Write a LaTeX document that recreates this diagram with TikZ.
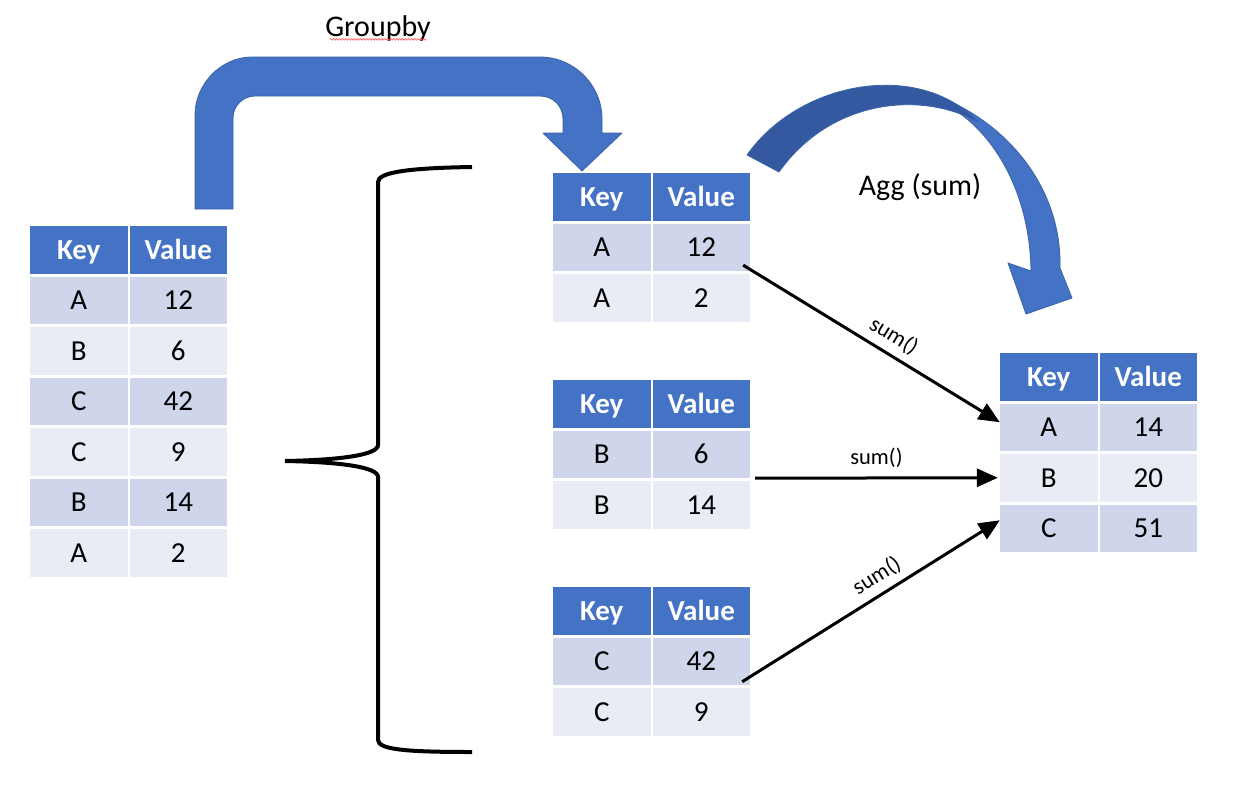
\documentclass[tikz,border=0pt]{standalone}
\usepackage{fontspec}
\setmainfont{Carlito}
\usetikzlibrary{arrows.meta,calc,decorations.pathmorphing}
\definecolor{hdrblue}{HTML}{4472C4}
\definecolor{rowdk}{HTML}{CFD5EA}
\definecolor{rowlt}{HTML}{E9EBF5}
\definecolor{arrowdark}{HTML}{3459A0}
\definecolor{arrowline}{HTML}{3A62A8}
\tikzset{
  cellbox/.style={rectangle, inner sep=0pt, minimum width=97.5pt, minimum height=47.5pt,
    text height=22pt, text depth=3.3pt, font=\fontsize{29}{30}\selectfont},
  hdr/.style={cellbox, fill=hdrblue, text=white, font=\fontsize{29}{30}\selectfont\bfseries},
  rowdark/.style={fill=rowdk},
  rowlight/.style={fill=rowlt},
  sumarrow/.style={line width=3pt, -{Triangle[length=21pt,width=18pt]}},
  sumlabel/.style={font=\fontsize{22.5}{24}\selectfont, sloped, inner sep=2pt},
  blockarrow/.style={fill=hdrblue, draw=arrowline, line width=0.8pt, line join=round},
  bracestyle/.style={line width=4pt, line cap=butt},
  bigtext/.style={font=\fontsize{30}{32}\selectfont}
}
\newcommand\datatable[4]{%
  \node[hdr] (#1-hk) at (#2+48.75,#3+23.75) {Key};
  \node[hdr] (#1-hv) at (#2+148.25,#3+23.75) {Value};
  \foreach \kk/\vv [count=\ii] in {#4} {
    \pgfmathsetmacro\yy{#3+23.75+50.5*\ii}
    \ifodd\ii \def\rowsty{rowdark}\else\def\rowsty{rowlight}\fi
    \node[cellbox,\rowsty] (#1-\ii k) at (#2+48.75,\yy) {\kk};
    \node[cellbox,\rowsty] (#1-\ii v) at (#2+148.25,\yy) {\vv};
  }%
}
\begin{document}
\begin{tikzpicture}[x=1pt,y=-1pt]
\useasboundingbox (0,0) rectangle (1242,795);
\fill[white] (0,0) rectangle (1242,795);

% Tables
\datatable{L}{30}{226}{A/12,B/6,C/42,C/9,B/14,A/2}
\datatable{ga}{553}{173}{A/12,A/2}
\datatable{gb}{553}{380}{B/6,B/14}
\datatable{gc}{553}{587}{C/42,C/9}
\datatable{R}{1000}{353}{A/14,B/20,C/51}

% Groupby block arrow
\path[blockarrow] (195,209) -- (195,115) .. controls (195,84) and (221,57) .. (252,57)
  -- (540,57) .. controls (574,57) and (602,85) .. (602,119) -- (602,133) -- (622,133)
  -- (582,171) -- (543,133) -- (563,133) -- (563,119)
  .. controls (563,106) and (553,96) .. (540,96) -- (255,96)
  .. controls (243,96) and (233,106) .. (233,118) -- (233,209) -- cycle;
\node[bigtext] (groupby) at (378,29) {Groupby};
\draw[red!70, line width=0.6pt, decorate, decoration={snake, amplitude=0.8pt, segment length=3pt}]
  ($(groupby.south west)+(8,-6)$) -- ($(groupby.south east)+(-8,-6)$);

% Brace
\draw[bracestyle] (472,167) .. controls (410,168) and (378,172) .. (378,182) -- (378,445)
  .. controls (378,455) and (340,460) .. (285,461)
  .. controls (340,462) and (378,467) .. (378,477) -- (378,740)
  .. controls (378,750) and (410,752) .. (472,752);

% Agg curved arrow
\path[blockarrow] (940,97) .. controls (1010,125) and (1062,190) .. (1060,268) -- (1072,298)
  -- (1026,314) -- (1008,263) -- (1031,271) .. controls (1030,200) and (1000,140) .. (955,110) -- cycle;
\path[blockarrow, fill=arrowdark] (747,155) .. controls (800,80) and (920,60) .. (978,122)
  .. controls (920,90) and (830,100) .. (779,172) -- cycle;
\node[bigtext] (agg) at (920,187) {Agg (sum)};

% sum arrows
\coordinate (s1) at ($(ga-1v.south east)+(-7,-6)$);
\coordinate (e1) at ($(R-1k.west)+(0,-5)$);
\coordinate (s2) at ($(gb-1v.south east)+(5,0)$);
\coordinate (e2) at ($(R-2k.west)+(-2,0)$);
\coordinate (s3) at ($(gc-1v.south east)+(-8,-3.5)$);
\coordinate (e3) at ($(R-3k.west)+(0,-8)$);
\draw[sumarrow] (s1) -- node[sumlabel, pos=0.55, above=5pt] {sum()} (e1);
\draw[sumarrow] (s2) -- node[sumlabel, pos=0.5, above=7pt] {sum()} (e2);
\draw[sumarrow] (s3) -- node[sumlabel, pos=0.56, above=5pt] {sum()} (e3);
\end{tikzpicture}
\end{document}
